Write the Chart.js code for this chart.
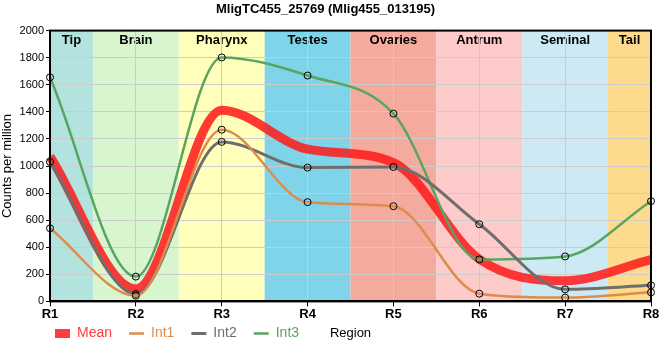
<!DOCTYPE html>
<html>
<head>
<meta charset="utf-8">
<script src="https://cdn.jsdelivr.net/npm/chart.js@4"></script>
<style>
  html, body { margin: 0; padding: 0; background: #fff; }
  #wrap { width: 660px; height: 360px; }
</style>
</head>
<body>
<div id="wrap"><canvas id="chart"></canvas></div>
<script>
const categories = ['R1', 'R2', 'R3', 'R4', 'R5', 'R6', 'R7', 'R8'];
const regionNames = ['Tip', 'Brain', 'Pharynx', 'Testes', 'Ovaries', 'Antrum', 'Seminal', 'Tail'];
const regionColors = ['#b3e3df', '#d8f5d0', '#ffffbb', '#7fd4ea', '#f4aa9c', '#fecbcb', '#cdeaf4', '#fdda8c'];

const meanValues = [1070, 92, 1412, 1125, 1025, 312, 152, 308];
const int1Values = [540, 42, 1268, 733, 703, 57, 28, 67];
const int2Values = [1030, 55, 1178, 988, 993, 570, 89, 119];
const int3Values = [1655, 183, 1802, 1668, 1387, 310, 332, 740];

const yTicks = [0, 200, 400, 600, 800, 1000, 1200, 1400, 1600, 1800, 2000];

const FONT = '"Liberation Sans", Arial, sans-serif';
const LEGEND_PAD = 17;

// coloured region bands behind the plot + labels
const bandsPlugin = {
    id: 'bands',
    afterLayout(chart) {
        // legend row: starts under the plot, centred 32px below the x axis
        const lg = chart.legend;
        const h = lg.height;
        lg.left = chart.chartArea.left + 5 - LEGEND_PAD;
        lg.top = chart.chartArea.bottom + 32 - LEGEND_PAD - 7;
        lg.bottom = lg.top + h;
    },
    beforeDraw(chart) {
        const ctx = chart.ctx;
        const area = chart.chartArea;
        const x = chart.scales.x;
        ctx.save();
        regionNames.forEach((name, i) => {
            const left = Math.max(area.left, x.getPixelForValue(i - 0.5));
            const right = Math.min(area.right, x.getPixelForValue(i + 0.5));
            ctx.fillStyle = regionColors[i];
            ctx.fillRect(left, area.top, right - left, area.bottom - area.top);
            ctx.fillStyle = '#000';
            ctx.font = 'bold 13px ' + FONT;
            ctx.textAlign = 'center';
            ctx.textBaseline = 'middle';
            ctx.fillText(name, (left + right) / 2, area.top + 10);
        });
        ctx.restore();
    },
    afterDraw(chart) {
        const ctx = chart.ctx;
        const area = chart.chartArea;
        ctx.save();
        ctx.strokeStyle = '#000';
        ctx.lineWidth = 2;
        ctx.strokeRect(area.left, area.top, area.right - area.left, area.bottom - area.top);
        // axis title sitting on the legend row
        ctx.fillStyle = '#000';
        ctx.font = '13px ' + FONT;
        ctx.textAlign = 'center';
        ctx.textBaseline = 'middle';
        ctx.fillText('Region', (area.left + area.right) / 2, area.bottom + 32);
        ctx.restore();
    }
};

const pointStyle = {
    pointRadius: 3.5,
    pointBorderColor: '#000',
    pointBorderWidth: 1,
    pointBackgroundColor: 'rgba(0,0,0,0)'
};

const ctx = document.getElementById('chart').getContext('2d');
const chart = new Chart(ctx, {
    type: 'line',
    data: {
        labels: categories,
        datasets: [{
            label: 'Mean',
            data: meanValues,
            borderColor: 'rgba(255, 25, 25, 0.85)',
            borderWidth: 9,
            pointRadius: 0,
            order: 1
        }, Object.assign({
            label: 'Int1',
            data: int1Values,
            borderColor: '#de8c4c',
            borderWidth: 2.5,
            order: 0
        }, pointStyle), Object.assign({
            label: 'Int2',
            data: int2Values,
            borderColor: '#6e6e6e',
            borderWidth: 3,
            order: 0
        }, pointStyle), Object.assign({
            label: 'Int3',
            data: int3Values,
            borderColor: '#5aa462',
            borderWidth: 2.5,
            order: 0
        }, pointStyle)]
    },
    options: {
        responsive: true,
        maintainAspectRatio: false,
        animation: false,
        cubicInterpolationMode: 'monotone',
        layout: {
            padding: { left: 0, right: 9, top: 0, bottom: -3 }
        },
        plugins: {
            title: {
                display: true,
                text: 'MligTC455_25769 (Mlig455_013195)',
                color: '#000',
                font: { family: FONT, size: 13, weight: 'bold' },
                padding: { top: 2, bottom: 13 }
            },
            legend: {
                position: 'bottom',
                align: 'start',
                labels: {
                    usePointStyle: true,
                    pointStyleWidth: 15,
                    boxHeight: 9,
                    padding: LEGEND_PAD,
                    font: { family: FONT, size: 14 },
                    generateLabels(chart) {
                        return chart.data.datasets.map((ds, i) => ({
                            text: ds.label,
                            fillStyle: ds.borderColor,
                            strokeStyle: ds.borderColor,
                            fontColor: ds.borderColor,
                            lineWidth: ds.borderWidth,
                            pointStyle: 'line',
                            datasetIndex: i,
                            hidden: false
                        }));
                    }
                }
            },
            tooltip: { enabled: false }
        },
        scales: {
            x: {
                offset: false,
                grid: { color: '#cccccc', tickLength: 5, tickColor: '#000' },
                border: { color: '#000', width: 2 },
                ticks: {
                    color: '#000',
                    padding: 0,
                    font: { family: FONT, size: 13, weight: 'bold' }
                }
            },
            y: {
                min: 0,
                max: 2000,
                afterBuildTicks(scale) {
                    scale.ticks = yTicks.map(v => ({ value: v }));
                },
                afterFit(scale) {
                    scale.width = 50;
                },
                grid: { color: '#cccccc', tickLength: 4, tickColor: '#000' },
                border: { color: '#000', width: 2 },
                title: {
                    display: true,
                    text: 'Counts per million',
                    color: '#000',
                    padding: 0,
                    font: { family: FONT, size: 13 }
                },
                ticks: {
                    color: '#000',
                    padding: 2,
                    font: { family: FONT, size: 11 },
                    callback: v => String(v)
                }
            }
        }
    },
    plugins: [bandsPlugin]
});
</script>
</body>
</html>
